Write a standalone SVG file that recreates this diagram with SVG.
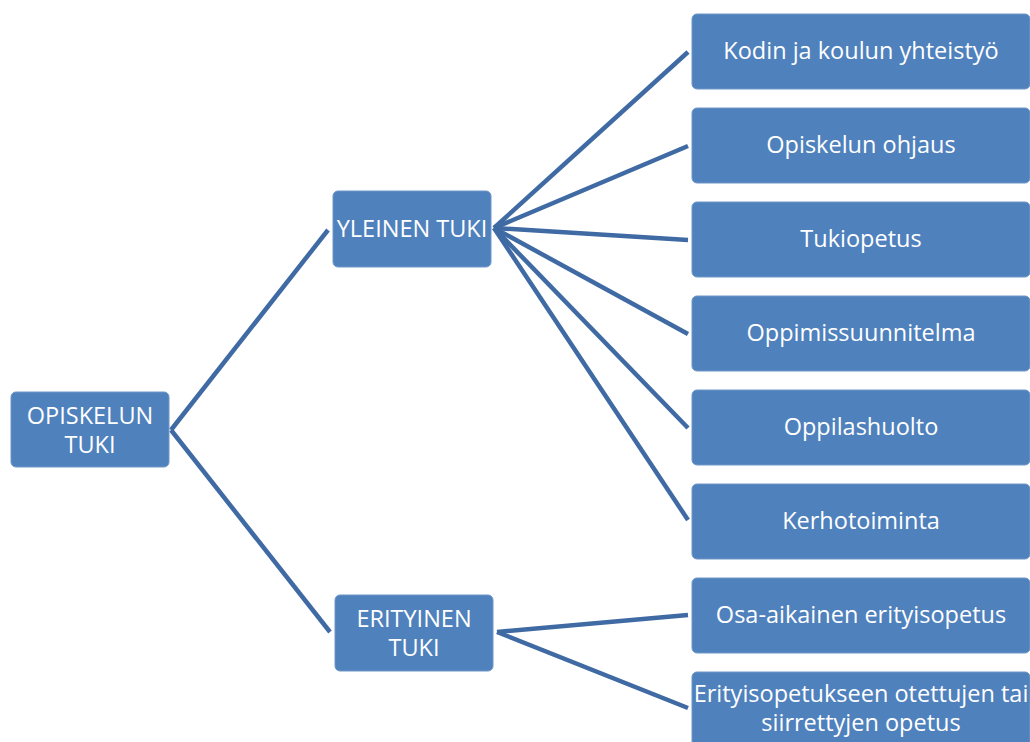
<svg xmlns="http://www.w3.org/2000/svg" width="1030" height="742" viewBox="0 0 1030 742">
<style>
.box{fill:#4f81bd;stroke:#6f96c8;stroke-width:1}
.t{fill:#ffffff;font-family:"Open Sans","Liberation Sans",sans-serif;font-size:23.5px;text-anchor:middle}
.c{stroke:#3f6aa3;stroke-width:4.5;fill:none;stroke-linecap:butt}
</style>
<rect width="1030" height="742" fill="#ffffff"/>
<g id="connectors">
<line class="c" x1="171" y1="430" x2="328" y2="230"/>
<line class="c" x1="171" y1="430" x2="330" y2="632"/>
<line class="c" x1="494" y1="228" x2="688" y2="52"/>
<line class="c" x1="494" y1="228" x2="688" y2="146"/>
<line class="c" x1="494" y1="228" x2="688" y2="240"/>
<line class="c" x1="494" y1="228" x2="688" y2="334"/>
<line class="c" x1="494" y1="228" x2="688" y2="428"/>
<line class="c" x1="494" y1="228" x2="688" y2="520"/>
<line class="c" x1="497" y1="632" x2="688" y2="615"/>
<line class="c" x1="497" y1="632" x2="688" y2="708"/>
</g>
<g id="n-opiskelun-tuki">
<rect class="box" x="11" y="392" width="158" height="75" rx="5"/>
<text class="t" x="90" y="424">OPISKELUN</text>
<text class="t" x="90" y="453">TUKI</text>
</g>
<g id="n-yleinen-tuki">
<rect class="box" x="333" y="191" width="158" height="76" rx="5"/>
<text class="t" x="412" y="237">YLEINEN TUKI</text>
</g>
<g id="n-erityinen-tuki">
<rect class="box" x="335" y="595" width="158" height="76" rx="5"/>
<text class="t" x="414" y="627">ERITYINEN</text>
<text class="t" x="414" y="656">TUKI</text>
</g>
<g id="n-kodin">
<rect class="box" x="692" y="14" width="338" height="75" rx="5"/>
<text class="t" x="861" y="59">Kodin ja koulun yhteistyö</text>
</g>
<g id="n-ohjaus">
<rect class="box" x="692" y="108" width="338" height="75" rx="5"/>
<text class="t" x="861" y="153">Opiskelun ohjaus</text>
</g>
<g id="n-tukiopetus">
<rect class="box" x="692" y="202" width="338" height="75" rx="5"/>
<text class="t" x="861" y="247">Tukiopetus</text>
</g>
<g id="n-oppimissuunnitelma">
<rect class="box" x="692" y="296" width="338" height="75" rx="5"/>
<text class="t" x="861" y="341">Oppimissuunnitelma</text>
</g>
<g id="n-oppilashuolto">
<rect class="box" x="692" y="390" width="338" height="75" rx="5"/>
<text class="t" x="861" y="435">Oppilashuolto</text>
</g>
<g id="n-kerhotoiminta">
<rect class="box" x="692" y="484" width="338" height="75" rx="5"/>
<text class="t" x="861" y="529">Kerhotoiminta</text>
</g>
<g id="n-osa-aikainen">
<rect class="box" x="692" y="578" width="338" height="75" rx="5"/>
<text class="t" x="861" y="623">Osa-aikainen erityisopetus</text>
</g>
<g id="n-erityisopetukseen">
<rect class="box" x="692" y="672" width="338" height="80" rx="5"/>
<text class="t" x="861" y="702">Erityisopetukseen otettujen tai</text>
<text class="t" x="861" y="731">siirrettyjen opetus</text>
</g>
</svg>
